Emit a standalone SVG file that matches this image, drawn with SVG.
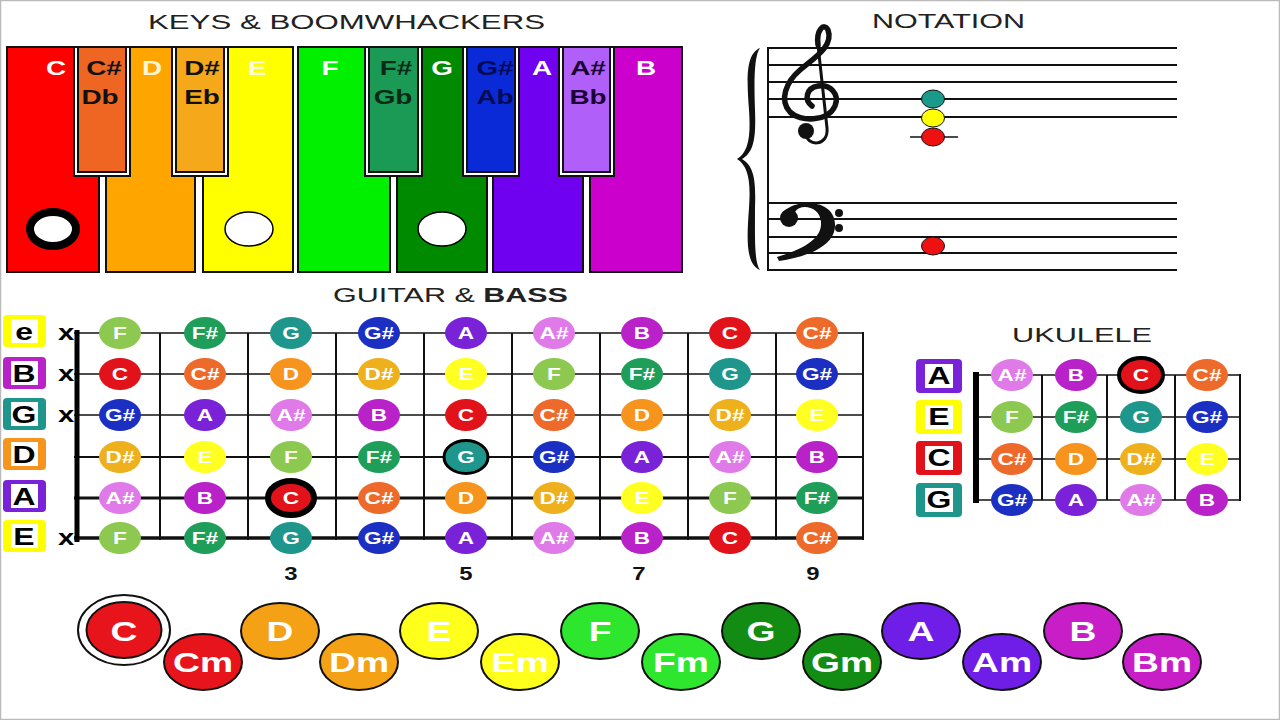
<svg xmlns="http://www.w3.org/2000/svg" width="1280" height="720" viewBox="0 0 1280 720">
<style>
text{font-family:"Liberation Sans",Arial,sans-serif}
.ttl{font-size:20px;fill:#222}
.kl{font-size:21px;font-weight:bold;text-anchor:middle}
.w{fill:#fff}
.dk{fill:#111}
.nt{font-size:17px;font-weight:bold;fill:#fff;text-anchor:middle}
.sl{font-size:24px;font-weight:bold;fill:#000;text-anchor:middle}
.xm{font-size:22px;font-weight:bold;fill:#000;text-anchor:middle}
.fn{font-size:18px;font-weight:bold;fill:#111;text-anchor:middle}
.ch{font-size:28px;font-weight:bold;fill:#fff;text-anchor:middle}
.wk{stroke:#111;stroke-width:2}
.gap{fill:#fff;stroke:#111;stroke-width:2}
.C{fill:#e2121b}.Cs{fill:#ee6a2a}.D{fill:#f7941e}.Ds{fill:#eeb01c}.E{fill:#ffff22}.F{fill:#8dc850}
.Fs{fill:#1f9e5a}.G{fill:#1f968c}.Gs{fill:#1b2fc2}.A{fill:#7a22d8}.As{fill:#e07ae8}.B{fill:#b822c8}
.str{stroke:#111}
.fr{stroke:#111;stroke-width:2}
.staff line{stroke:#111;stroke-width:2}
.chd ellipse{stroke:#111;stroke-width:2}
</style>
<rect x="0.5" y="0.5" width="1279" height="719" fill="#fff" stroke="#bbb" stroke-width="1.5"/>

<!-- KEYS -->
<g id="keys">
<text class="ttl" x="148" y="29" textLength="397" lengthAdjust="spacingAndGlyphs">KEYS &amp; BOOMWHACKERS</text>
<g id="key-C"><rect class="wk" x="7" y="47" width="92" height="225" fill="#ff0000"/></g>
<g id="key-D"><rect class="wk" x="106" y="47" width="89" height="225" fill="#ffa500"/></g>
<g id="key-E"><rect class="wk" x="203" y="47" width="90" height="225" fill="#ffff00"/></g>
<g id="key-F"><rect class="wk" x="298" y="47" width="92" height="225" fill="#00f000"/></g>
<g id="key-G"><rect class="wk" x="397" y="47" width="90" height="225" fill="#008a00"/></g>
<g id="key-A"><rect class="wk" x="493" y="47" width="90" height="225" fill="#7000f0"/></g>
<g id="key-B"><rect class="wk" x="590" y="47" width="92" height="225" fill="#cc00cc"/></g>
<g id="key-Cs"><rect class="gap" x="74" y="47" width="56" height="129"/><rect class="wk" x="78" y="47" width="48" height="125" fill="#ee6622"/></g>
<g id="key-Ds"><rect class="gap" x="172" y="47" width="56" height="129"/><rect class="wk" x="176" y="47" width="48" height="125" fill="#f5a81a"/></g>
<g id="key-Fs"><rect class="gap" x="365" y="47" width="57" height="129"/><rect class="wk" x="369" y="47" width="49" height="125" fill="#1a9a55"/></g>
<g id="key-Gs"><rect class="gap" x="463" y="47" width="56" height="129"/><rect class="wk" x="467" y="47" width="48" height="125" fill="#0a2ad8"/></g>
<g id="key-As"><rect class="gap" x="559" y="47" width="55" height="129"/><rect class="wk" x="563" y="47" width="47" height="125" fill="#b060f8"/></g>
<text class="kl w" transform="translate(56 75) scale(1.33 1)">C</text>
<text class="kl dk" transform="translate(104 75) scale(1.33 1)">C#</text>
<text class="kl dk" transform="translate(100 104) scale(1.33 1)">Db</text>
<text class="kl" fill="#fff6d8" transform="translate(152 75) scale(1.33 1)">D</text>
<text class="kl dk" transform="translate(202 75) scale(1.33 1)">D#</text>
<text class="kl dk" transform="translate(202 104) scale(1.33 1)">Eb</text>
<text class="kl" fill="#fffde0" transform="translate(257 75) scale(1.33 1)">E</text>
<text class="kl w" transform="translate(330 75) scale(1.33 1)">F</text>
<text class="kl" fill="#0a2a18" transform="translate(396 75) scale(1.33 1)">F#</text>
<text class="kl" fill="#0a2a18" transform="translate(393 104) scale(1.33 1)">Gb</text>
<text class="kl w" transform="translate(442 75) scale(1.33 1)">G</text>
<text class="kl" fill="#000a55" transform="translate(495 75) scale(1.33 1)">G#</text>
<text class="kl" fill="#000a55" transform="translate(495 104) scale(1.33 1)">Ab</text>
<text class="kl w" transform="translate(542 75) scale(1.33 1)">A</text>
<text class="kl" fill="#1a0033" transform="translate(588 75) scale(1.33 1)">A#</text>
<text class="kl" fill="#1a0033" transform="translate(588 104) scale(1.33 1)">Bb</text>
<text class="kl w" transform="translate(646 75) scale(1.33 1)">B</text>
<ellipse cx="53" cy="229" rx="23" ry="17" fill="#fff" stroke="#000" stroke-width="8"/>
<ellipse cx="249" cy="229" rx="24" ry="17" fill="#fff" stroke="#000" stroke-width="1.5"/>
<ellipse cx="442" cy="229" rx="24" ry="17" fill="#fff" stroke="#000" stroke-width="1.5"/>
</g>

<!-- NOTATION -->
<g id="notation">
<text class="ttl" x="872" y="28" textLength="153" lengthAdjust="spacingAndGlyphs">NOTATION</text>
<path d="M760 48 C745 54 747 82 749 110 C751 138 748 152 737 159 C748 166 751 180 749 208 C747 236 745 264 760 270 C754 262 755 236 755 208 C756 180 754 166 742 159 C754 152 756 138 755 110 C754 82 754 56 760 48 Z" fill="#111"/>
<g class="staff">
<line x1="767" y1="48" x2="1177" y2="48"/><line x1="767" y1="65" x2="1177" y2="65"/><line x1="767" y1="82" x2="1177" y2="82"/><line x1="767" y1="99" x2="1177" y2="99"/><line x1="767" y1="117" x2="1177" y2="117"/>
<line x1="767" y1="203" x2="1177" y2="203"/><line x1="767" y1="219" x2="1177" y2="219"/><line x1="767" y1="237" x2="1177" y2="237"/><line x1="767" y1="253" x2="1177" y2="253"/><line x1="767" y1="270" x2="1177" y2="270"/>
<line x1="768" y1="47" x2="768" y2="271"/>
</g>
<path d="M806 133 C806 147 829 147 827 128 L818 45" fill="none" stroke="#111" stroke-width="3" stroke-linecap="round"/>
<path d="M818 45 C816 30 824 22 828 30 C834 46 814 58 800 70 C786 82 779 100 790 112 C800 122 828 122 835 106 C840 94 830 84 818 86 C806 88 804 100 812 106" fill="none" stroke="#111" stroke-width="5.5" stroke-linecap="round"/>
<circle cx="806" cy="131" r="8" fill="#111"/>
<path d="M781 218 C782 200 834 194 835 224 C836 244 812 256 779 261 L777 257 C806 248 822 238 821 222 C820 206 800 203 795 212 Z" fill="#111"/>
<circle cx="789" cy="218" r="9" fill="#111"/>
<circle cx="839" cy="213" r="4" fill="#111"/><circle cx="839" cy="228" r="4" fill="#111"/>
<line x1="910" y1="137" x2="958" y2="137" stroke="#111" stroke-width="1.5"/>
<ellipse cx="933" cy="99" rx="11.5" ry="9" fill="#1a9a8a" stroke="#111" stroke-width="1"/>
<ellipse cx="933" cy="118" rx="11.5" ry="9" fill="#ffff00" stroke="#111" stroke-width="1"/>
<ellipse cx="933" cy="137" rx="11.5" ry="9" fill="#ee1111" stroke="#111" stroke-width="1"/>
<ellipse cx="933" cy="246" rx="11.5" ry="9" fill="#ee1111" stroke="#111" stroke-width="1"/>
</g>

<!-- GUITAR -->
<g id="guitar">
<text class="ttl" x="333" y="302" font-size="19" textLength="235" lengthAdjust="spacingAndGlyphs">GUITAR &amp; <tspan font-weight="bold">BASS</tspan></text>
<g id="guitar-labels">
<rect x="3" y="315" width="43" height="32" rx="4" fill="#ffff00"/><rect x="11" y="319" width="27" height="24" fill="#fff"/><text class="sl" transform="translate(24 340) scale(1.33 1)">e</text>
<rect x="3" y="357" width="43" height="32" rx="4" fill="#b822c8"/><rect x="11" y="361" width="27" height="24" fill="#fff"/><text class="sl" transform="translate(24 382) scale(1.33 1)">B</text>
<rect x="3" y="398" width="43" height="32" rx="4" fill="#1f968c"/><rect x="11" y="402" width="27" height="24" fill="#fff"/><text class="sl" transform="translate(24 423) scale(1.33 1)">G</text>
<rect x="3" y="438" width="43" height="32" rx="4" fill="#f7941e"/><rect x="11" y="442" width="27" height="24" fill="#fff"/><text class="sl" transform="translate(24 463) scale(1.33 1)">D</text>
<rect x="3" y="480" width="43" height="32" rx="4" fill="#7a22d8"/><rect x="11" y="484" width="27" height="24" fill="#fff"/><text class="sl" transform="translate(24 505) scale(1.33 1)">A</text>
<rect x="3" y="520" width="43" height="32" rx="4" fill="#ffff00"/><rect x="11" y="524" width="27" height="24" fill="#fff"/><text class="sl" transform="translate(24 545) scale(1.33 1)">E</text>
</g>
<text class="xm" transform="translate(66 340) scale(1.33 1)">x</text>
<text class="xm" transform="translate(66 381) scale(1.33 1)">x</text>
<text class="xm" transform="translate(66 422) scale(1.33 1)">x</text>
<text class="xm" transform="translate(66 545) scale(1.33 1)">x</text>
<g id="strings">
<line class="str" x1="74" y1="333" x2="863" y2="333" stroke-width="1.5"/>
<line class="str" x1="74" y1="374" x2="863" y2="374" stroke-width="1.5"/>
<line class="str" x1="74" y1="415" x2="863" y2="415" stroke-width="1.5"/>
<line class="str" x1="74" y1="457" x2="863" y2="457" stroke-width="1.8"/>
<line class="str" x1="74" y1="498" x2="863" y2="498" stroke-width="3"/>
<line class="str" x1="74" y1="538" x2="863" y2="538" stroke-width="3.5"/>
</g>
<g id="frets">
<line class="fr" x1="160" y1="333" x2="160" y2="540"/><line class="fr" x1="248" y1="333" x2="248" y2="540"/><line class="fr" x1="336" y1="333" x2="336" y2="540"/><line class="fr" x1="424" y1="333" x2="424" y2="540"/><line class="fr" x1="512" y1="333" x2="512" y2="540"/><line class="fr" x1="600" y1="333" x2="600" y2="540"/><line class="fr" x1="688" y1="333" x2="688" y2="540"/><line class="fr" x1="776" y1="333" x2="776" y2="540"/><line class="fr" x1="863" y1="332" x2="863" y2="540" stroke-width="2.5"/>
<line x1="77" y1="330" x2="77" y2="542" stroke="#000" stroke-width="5"/>
</g>
<g id="gnotes">
<g transform="translate(120 333)"><ellipse class="F" rx="21" ry="16"/><text class="nt" y="6" transform="scale(1.33 1)">F</text></g>
<g transform="translate(205 333)"><ellipse class="Fs" rx="21" ry="16"/><text class="nt" y="6" transform="scale(1.33 1)">F#</text></g>
<g transform="translate(291 333)"><ellipse class="G" rx="21" ry="16"/><text class="nt" y="6" transform="scale(1.33 1)">G</text></g>
<g transform="translate(379 333)"><ellipse class="Gs" rx="21" ry="16"/><text class="nt" y="6" transform="scale(1.33 1)">G#</text></g>
<g transform="translate(466 333)"><ellipse class="A" rx="21" ry="16"/><text class="nt" y="6" transform="scale(1.33 1)">A</text></g>
<g transform="translate(554 333)"><ellipse class="As" rx="21" ry="16"/><text class="nt" y="6" transform="scale(1.33 1)">A#</text></g>
<g transform="translate(642 333)"><ellipse class="B" rx="21" ry="16"/><text class="nt" y="6" transform="scale(1.33 1)">B</text></g>
<g transform="translate(730 333)"><ellipse class="C" rx="21" ry="16"/><text class="nt" y="6" transform="scale(1.33 1)">C</text></g>
<g transform="translate(817 333)"><ellipse class="Cs" rx="21" ry="16"/><text class="nt" y="6" transform="scale(1.33 1)">C#</text></g>

<g transform="translate(120 374)"><ellipse class="C" rx="21" ry="16"/><text class="nt" y="6" transform="scale(1.33 1)">C</text></g>
<g transform="translate(205 374)"><ellipse class="Cs" rx="21" ry="16"/><text class="nt" y="6" transform="scale(1.33 1)">C#</text></g>
<g transform="translate(291 374)"><ellipse class="D" rx="21" ry="16"/><text class="nt" y="6" transform="scale(1.33 1)">D</text></g>
<g transform="translate(379 374)"><ellipse class="Ds" rx="21" ry="16"/><text class="nt" y="6" transform="scale(1.33 1)">D#</text></g>
<g transform="translate(466 374)"><ellipse class="E" rx="21" ry="16"/><text class="nt" y="6" transform="scale(1.33 1)">E</text></g>
<g transform="translate(554 374)"><ellipse class="F" rx="21" ry="16"/><text class="nt" y="6" transform="scale(1.33 1)">F</text></g>
<g transform="translate(642 374)"><ellipse class="Fs" rx="21" ry="16"/><text class="nt" y="6" transform="scale(1.33 1)">F#</text></g>
<g transform="translate(730 374)"><ellipse class="G" rx="21" ry="16"/><text class="nt" y="6" transform="scale(1.33 1)">G</text></g>
<g transform="translate(817 374)"><ellipse class="Gs" rx="21" ry="16"/><text class="nt" y="6" transform="scale(1.33 1)">G#</text></g>

<g transform="translate(120 415)"><ellipse class="Gs" rx="21" ry="16"/><text class="nt" y="6" transform="scale(1.33 1)">G#</text></g>
<g transform="translate(205 415)"><ellipse class="A" rx="21" ry="16"/><text class="nt" y="6" transform="scale(1.33 1)">A</text></g>
<g transform="translate(291 415)"><ellipse class="As" rx="21" ry="16"/><text class="nt" y="6" transform="scale(1.33 1)">A#</text></g>
<g transform="translate(379 415)"><ellipse class="B" rx="21" ry="16"/><text class="nt" y="6" transform="scale(1.33 1)">B</text></g>
<g transform="translate(466 415)"><ellipse class="C" rx="21" ry="16"/><text class="nt" y="6" transform="scale(1.33 1)">C</text></g>
<g transform="translate(554 415)"><ellipse class="Cs" rx="21" ry="16"/><text class="nt" y="6" transform="scale(1.33 1)">C#</text></g>
<g transform="translate(642 415)"><ellipse class="D" rx="21" ry="16"/><text class="nt" y="6" transform="scale(1.33 1)">D</text></g>
<g transform="translate(730 415)"><ellipse class="Ds" rx="21" ry="16"/><text class="nt" y="6" transform="scale(1.33 1)">D#</text></g>
<g transform="translate(817 415)"><ellipse class="E" rx="21" ry="16"/><text class="nt" y="6" transform="scale(1.33 1)">E</text></g>

<g transform="translate(120 457)"><ellipse class="Ds" rx="21" ry="16"/><text class="nt" y="6" transform="scale(1.33 1)">D#</text></g>
<g transform="translate(205 457)"><ellipse class="E" rx="21" ry="16"/><text class="nt" y="6" transform="scale(1.33 1)">E</text></g>
<g transform="translate(291 457)"><ellipse class="F" rx="21" ry="16"/><text class="nt" y="6" transform="scale(1.33 1)">F</text></g>
<g transform="translate(379 457)"><ellipse class="Fs" rx="21" ry="16"/><text class="nt" y="6" transform="scale(1.33 1)">F#</text></g>
<g transform="translate(466 457)"><ellipse class="G" rx="22" ry="16.5" stroke="#000" stroke-width="3"/><text class="nt" y="6" transform="scale(1.33 1)">G</text></g>
<g transform="translate(554 457)"><ellipse class="Gs" rx="21" ry="16"/><text class="nt" y="6" transform="scale(1.33 1)">G#</text></g>
<g transform="translate(642 457)"><ellipse class="A" rx="21" ry="16"/><text class="nt" y="6" transform="scale(1.33 1)">A</text></g>
<g transform="translate(730 457)"><ellipse class="As" rx="21" ry="16"/><text class="nt" y="6" transform="scale(1.33 1)">A#</text></g>
<g transform="translate(817 457)"><ellipse class="B" rx="21" ry="16"/><text class="nt" y="6" transform="scale(1.33 1)">B</text></g>

<g transform="translate(120 498)"><ellipse class="As" rx="21" ry="16"/><text class="nt" y="6" transform="scale(1.33 1)">A#</text></g>
<g transform="translate(205 498)"><ellipse class="B" rx="21" ry="16"/><text class="nt" y="6" transform="scale(1.33 1)">B</text></g>
<g transform="translate(291 498)"><ellipse class="C" rx="23" ry="17" stroke="#000" stroke-width="6"/><text class="nt" y="6" transform="scale(1.33 1)">C</text></g>
<g transform="translate(379 498)"><ellipse class="Cs" rx="21" ry="16"/><text class="nt" y="6" transform="scale(1.33 1)">C#</text></g>
<g transform="translate(466 498)"><ellipse class="D" rx="21" ry="16"/><text class="nt" y="6" transform="scale(1.33 1)">D</text></g>
<g transform="translate(554 498)"><ellipse class="Ds" rx="21" ry="16"/><text class="nt" y="6" transform="scale(1.33 1)">D#</text></g>
<g transform="translate(642 498)"><ellipse class="E" rx="21" ry="16"/><text class="nt" y="6" transform="scale(1.33 1)">E</text></g>
<g transform="translate(730 498)"><ellipse class="F" rx="21" ry="16"/><text class="nt" y="6" transform="scale(1.33 1)">F</text></g>
<g transform="translate(817 498)"><ellipse class="Fs" rx="21" ry="16"/><text class="nt" y="6" transform="scale(1.33 1)">F#</text></g>

<g transform="translate(120 538)"><ellipse class="F" rx="21" ry="16"/><text class="nt" y="6" transform="scale(1.33 1)">F</text></g>
<g transform="translate(205 538)"><ellipse class="Fs" rx="21" ry="16"/><text class="nt" y="6" transform="scale(1.33 1)">F#</text></g>
<g transform="translate(291 538)"><ellipse class="G" rx="21" ry="16"/><text class="nt" y="6" transform="scale(1.33 1)">G</text></g>
<g transform="translate(379 538)"><ellipse class="Gs" rx="21" ry="16"/><text class="nt" y="6" transform="scale(1.33 1)">G#</text></g>
<g transform="translate(466 538)"><ellipse class="A" rx="21" ry="16"/><text class="nt" y="6" transform="scale(1.33 1)">A</text></g>
<g transform="translate(554 538)"><ellipse class="As" rx="21" ry="16"/><text class="nt" y="6" transform="scale(1.33 1)">A#</text></g>
<g transform="translate(642 538)"><ellipse class="B" rx="21" ry="16"/><text class="nt" y="6" transform="scale(1.33 1)">B</text></g>
<g transform="translate(730 538)"><ellipse class="C" rx="21" ry="16"/><text class="nt" y="6" transform="scale(1.33 1)">C</text></g>
<g transform="translate(817 538)"><ellipse class="Cs" rx="21" ry="16"/><text class="nt" y="6" transform="scale(1.33 1)">C#</text></g>
</g>
<text class="fn" transform="translate(291 580) scale(1.33 1)">3</text>
<text class="fn" transform="translate(466 580) scale(1.33 1)">5</text>
<text class="fn" transform="translate(639 580) scale(1.33 1)">7</text>
<text class="fn" transform="translate(813 580) scale(1.33 1)">9</text>
</g>

<!-- UKULELE -->
<g id="ukulele">
<text class="ttl" x="1012" y="342" font-size="21" textLength="140" lengthAdjust="spacingAndGlyphs">UKULELE</text>
<rect x="916" y="359" width="46" height="34" rx="4" fill="#7a22d8"/><rect x="925" y="364" width="28" height="24" fill="#fff"/><text class="sl" font-size="22" transform="translate(939 384) scale(1.33 1)">A</text>
<rect x="916" y="400" width="46" height="34" rx="4" fill="#ffff00"/><rect x="925" y="405" width="28" height="24" fill="#fff"/><text class="sl" font-size="22" transform="translate(939 425) scale(1.33 1)">E</text>
<rect x="916" y="441" width="46" height="34" rx="4" fill="#e2121b"/><rect x="925" y="446" width="28" height="24" fill="#fff"/><text class="sl" font-size="22" transform="translate(939 466) scale(1.33 1)">C</text>
<rect x="916" y="483" width="46" height="34" rx="4" fill="#1f968c"/><rect x="925" y="488" width="28" height="24" fill="#fff"/><text class="sl" font-size="22" transform="translate(939 508) scale(1.33 1)">G</text>
<line class="str" x1="973" y1="375" x2="1240" y2="375" stroke-width="1.5"/>
<line class="str" x1="973" y1="417" x2="1240" y2="417" stroke-width="1.5"/>
<line class="str" x1="973" y1="459" x2="1240" y2="459" stroke-width="1.5"/>
<line class="str" x1="973" y1="500" x2="1240" y2="500" stroke-width="1.5"/>
<line class="fr" x1="1042" y1="375" x2="1042" y2="500"/><line class="fr" x1="1107" y1="375" x2="1107" y2="500"/><line class="fr" x1="1175" y1="375" x2="1175" y2="500"/><line class="fr" x1="1240" y1="374" x2="1240" y2="501"/>
<line x1="976" y1="372" x2="976" y2="503" stroke="#000" stroke-width="6"/>
<g transform="translate(1012 375)"><ellipse class="As" rx="21" ry="16"/><text class="nt" y="6" transform="scale(1.33 1)">A#</text></g>
<g transform="translate(1076 375)"><ellipse class="B" rx="21" ry="16"/><text class="nt" y="6" transform="scale(1.33 1)">B</text></g>
<g transform="translate(1141 375)"><ellipse class="C" rx="22" ry="17" stroke="#000" stroke-width="4"/><text class="nt" y="6" transform="scale(1.33 1)">C</text></g>
<g transform="translate(1207 375)"><ellipse class="Cs" rx="21" ry="16"/><text class="nt" y="6" transform="scale(1.33 1)">C#</text></g>
<g transform="translate(1012 417)"><ellipse class="F" rx="21" ry="16"/><text class="nt" y="6" transform="scale(1.33 1)">F</text></g>
<g transform="translate(1076 417)"><ellipse class="Fs" rx="21" ry="16"/><text class="nt" y="6" transform="scale(1.33 1)">F#</text></g>
<g transform="translate(1141 417)"><ellipse class="G" rx="21" ry="16"/><text class="nt" y="6" transform="scale(1.33 1)">G</text></g>
<g transform="translate(1207 417)"><ellipse class="Gs" rx="21" ry="16"/><text class="nt" y="6" transform="scale(1.33 1)">G#</text></g>
<g transform="translate(1012 459)"><ellipse class="Cs" rx="21" ry="16"/><text class="nt" y="6" transform="scale(1.33 1)">C#</text></g>
<g transform="translate(1076 459)"><ellipse class="D" rx="21" ry="16"/><text class="nt" y="6" transform="scale(1.33 1)">D</text></g>
<g transform="translate(1141 459)"><ellipse class="Ds" rx="21" ry="16"/><text class="nt" y="6" transform="scale(1.33 1)">D#</text></g>
<g transform="translate(1207 459)"><ellipse class="E" rx="21" ry="16"/><text class="nt" y="6" transform="scale(1.33 1)">E</text></g>
<g transform="translate(1012 500)"><ellipse class="Gs" rx="21" ry="16"/><text class="nt" y="6" transform="scale(1.33 1)">G#</text></g>
<g transform="translate(1076 500)"><ellipse class="A" rx="21" ry="16"/><text class="nt" y="6" transform="scale(1.33 1)">A</text></g>
<g transform="translate(1141 500)"><ellipse class="As" rx="21" ry="16"/><text class="nt" y="6" transform="scale(1.33 1)">A#</text></g>
<g transform="translate(1207 500)"><ellipse class="B" rx="21" ry="16"/><text class="nt" y="6" transform="scale(1.33 1)">B</text></g>
</g>

<!-- CHORDS -->
<g id="chords" class="chd">
<ellipse cx="124" cy="630" rx="46" ry="35" fill="#fff" stroke-width="2"/>
<g id="ch-C"><ellipse cx="124" cy="630" rx="37.5" ry="28" fill="#e8141c"/><text class="ch" transform="translate(124 641) scale(1.33 1)">C</text></g>
<g id="ch-Cm"><ellipse cx="203" cy="662" rx="39" ry="28" fill="#e8141c"/><text class="ch" transform="translate(203 672) scale(1.33 1)">Cm</text></g>
<g id="ch-D"><ellipse cx="280" cy="631" rx="39" ry="28" fill="#f4a116"/><text class="ch" transform="translate(280 641) scale(1.33 1)">D</text></g>
<g id="ch-Dm"><ellipse cx="359" cy="662" rx="39" ry="28" fill="#f4a116"/><text class="ch" transform="translate(359 672) scale(1.33 1)">Dm</text></g>
<g id="ch-E"><ellipse cx="439" cy="631" rx="39" ry="28" fill="#ffff1c"/><text class="ch" transform="translate(439 641) scale(1.33 1)">E</text></g>
<g id="ch-Em"><ellipse cx="520" cy="662" rx="39" ry="28" fill="#ffff1c"/><text class="ch" transform="translate(520 672) scale(1.33 1)">Em</text></g>
<g id="ch-F"><ellipse cx="600" cy="631" rx="39" ry="28" fill="#2ee62e"/><text class="ch" transform="translate(600 641) scale(1.33 1)">F</text></g>
<g id="ch-Fm"><ellipse cx="681" cy="662" rx="39" ry="28" fill="#2ee62e"/><text class="ch" transform="translate(681 672) scale(1.33 1)">Fm</text></g>
<g id="ch-G"><ellipse cx="761" cy="631" rx="39" ry="28" fill="#138c13"/><text class="ch" transform="translate(761 641) scale(1.33 1)">G</text></g>
<g id="ch-Gm"><ellipse cx="842" cy="662" rx="39" ry="28" fill="#138c13"/><text class="ch" transform="translate(842 672) scale(1.33 1)">Gm</text></g>
<g id="ch-A"><ellipse cx="921" cy="631" rx="39" ry="28" fill="#6f1ee8"/><text class="ch" transform="translate(921 641) scale(1.33 1)">A</text></g>
<g id="ch-Am"><ellipse cx="1002" cy="662" rx="39" ry="28" fill="#6f1ee8"/><text class="ch" transform="translate(1002 672) scale(1.33 1)">Am</text></g>
<g id="ch-B"><ellipse cx="1083" cy="631" rx="39" ry="28" fill="#c81ec8"/><text class="ch" transform="translate(1083 641) scale(1.33 1)">B</text></g>
<g id="ch-Bm"><ellipse cx="1162" cy="662" rx="39" ry="28" fill="#c81ec8"/><text class="ch" transform="translate(1162 672) scale(1.33 1)">Bm</text></g>
</g>
</svg>
